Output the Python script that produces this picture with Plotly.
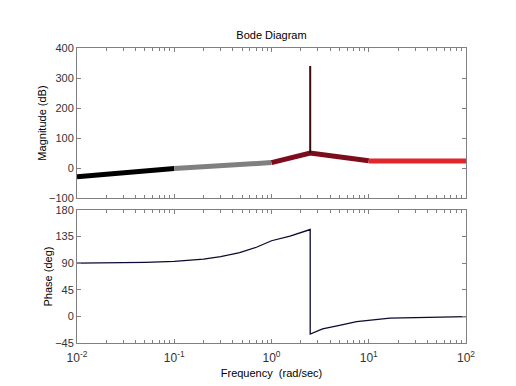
import plotly.graph_objects as go
from plotly.subplots import make_subplots

# Magnitude segments (rad/s, dB)
w_black = [0.01, 0.1]
mag_black = [-29, -2]
w_gray = [0.1, 1.0]
mag_gray = [-2, 18]
w_dred = [1.0, 2.5, 10.0]
mag_dred = [18, 50, 24]
w_red = [10.0, 100.0]
mag_red = [23, 23]
w_spike = [2.5, 2.5]
mag_spike = [50, 340]

# Phase (rad/s, deg)
w_phase = [0.01, 0.03, 0.05, 0.1, 0.2, 0.3, 0.47, 0.7, 1.0, 1.55, 2.5, 2.5, 3.35, 5, 7.5, 16.5, 36, 100]
phase = [90, 90.5, 91.5, 93, 97, 101, 108, 117, 128, 136, 147, -30, -21, -15, -9, -3, -1.5, -0.5]

x_tickvals = [0.01, 0.1, 1, 10, 100]
x_ticktext = ["10<sup>-2</sup>", "10<sup>-1</sup>", "10<sup>0</sup>", "10<sup>1</sup>", "10<sup>2</sup>"]
x_minor = [m * d for d in [0.01, 0.1, 1, 10] for m in range(2, 10)]
mag_ticks = [-100, 0, 100, 200, 300, 400]
phase_ticks = [-45, 0, 45, 90, 135, 180]

fig = make_subplots(rows=2, cols=1, shared_xaxes=False, vertical_spacing=0.04)

fig.add_trace(go.Scatter(x=w_black, y=mag_black, mode="lines", line=dict(color="#000000", width=5)), row=1, col=1)
fig.add_trace(go.Scatter(x=w_gray, y=mag_gray, mode="lines", line=dict(color="#808080", width=5)), row=1, col=1)
fig.add_trace(go.Scatter(x=w_dred, y=mag_dred, mode="lines", line=dict(color="#7d0d1c", width=5)), row=1, col=1)
fig.add_trace(go.Scatter(x=w_red, y=mag_red, mode="lines", line=dict(color="#e2262c", width=5)), row=1, col=1)
fig.add_trace(go.Scatter(x=w_spike, y=mag_spike, mode="lines", line=dict(color="#3a0a10", width=2)), row=1, col=1)
fig.add_trace(go.Scatter(x=w_phase, y=phase, mode="lines", line=dict(color="#0a0a30", width=1.3)), row=2, col=1)

FONT = "Liberation Sans, Arial"
axis_common = dict(
    showline=True, linecolor="#808080", linewidth=1, mirror="ticks",
    ticks="inside", ticklen=4, tickcolor="#808080", showgrid=False, zeroline=False,
    tickfont=dict(family=FONT, size=11, color="#333333"),
)
xcommon = dict(axis_common, type="log", range=[-2, 2], tickvals=x_tickvals,
               minor=dict(ticks="inside", ticklen=3, tickcolor="#808080", showgrid=False, tickvals=x_minor))

fig.update_xaxes(xcommon, showticklabels=False, domain=[0, 1], row=1, col=1)
fig.update_xaxes(xcommon, ticktext=x_ticktext, showticklabels=True, ticklabelstandoff=4,
                 tickfont=dict(family=FONT, size=12, color="#333333"), row=2, col=1,
                 title=dict(text="Frequency  (rad/sec)", font=dict(family=FONT, size=11, color="#000"), standoff=4))
fig.update_yaxes(axis_common, range=[-100, 400], tickvals=mag_ticks, domain=[0.4915, 1.0], row=1, col=1,
                 title=dict(text="Magnitude (dB)", font=dict(family=FONT, size=11, color="#000"), standoff=0))
fig.update_yaxes(axis_common, range=[-45, 180], tickvals=phase_ticks, domain=[0, 0.4508], row=2, col=1,
                 title=dict(text="Phase (deg)", font=dict(family=FONT, size=11, color="#000"), standoff=0))

fig.update_layout(
    width=516, height=386,
    margin=dict(l=69, r=58, t=40, b=51, autoexpand=False),
    paper_bgcolor="white", plot_bgcolor="white",
    showlegend=False,
    title=dict(text="Bode Diagram", x=0.5, xanchor="center", xref="paper", y=1 - 27/386, yanchor="middle",
               font=dict(family=FONT, size=11, color="#000")),
)

fig.write_html("out.html")
